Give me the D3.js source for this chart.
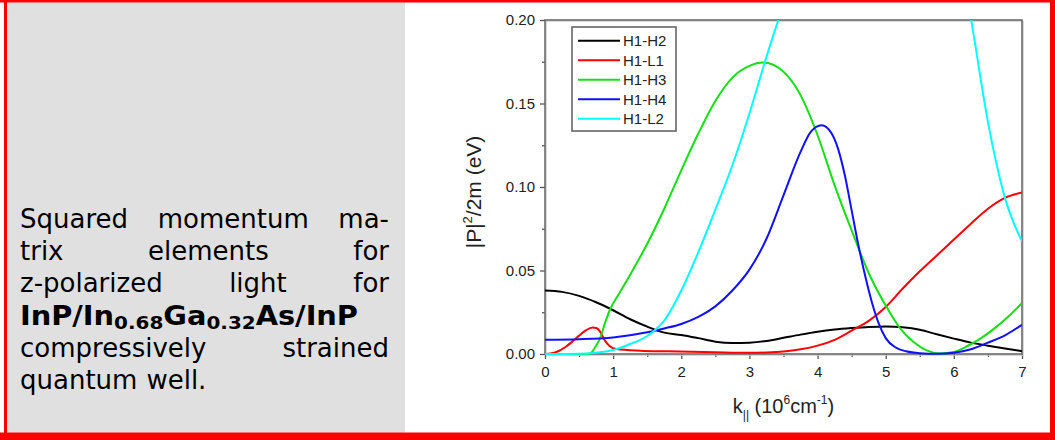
<!DOCTYPE html>
<html>
<head>
<meta charset="utf-8">
<script src="https://cdn.jsdelivr.net/npm/d3@7"></script>
<style>
  body { margin: 0; background: #fff; }
  svg { display: block; }
</style>
</head>
<body>
<div id="chart"></div>
<script>
var svgWidth = 1055;
var svgHeight = 440;

// k|| (10^6 cm^-1), |P|^2/2m (eV)
var h1h2 = [[0,0.038],[0.25,0.0372],[0.5,0.0348],[0.75,0.031],[1,0.0262],[1.25,0.0208],[1.5,0.0164],
  [1.75,0.0128],[2,0.0114],[2.25,0.0095],[2.5,0.0074],[2.75,0.0066],[3,0.0068],[3.25,0.0078],[3.5,0.0097],
  [3.75,0.0116],[4,0.0133],[4.25,0.0146],[4.5,0.0155],[4.75,0.0162],[5,0.0165],[5.25,0.016],[5.5,0.0145],
  [5.75,0.0118],[6,0.0092],[6.25,0.0068],[6.5,0.005],[6.75,0.0033],[7,0.0017]];

var h1l1 = [[0,0],[0.1,0.0004],[0.2,0.0018],[0.3,0.0042],[0.4,0.0074],[0.5,0.011],[0.6,0.0142],[0.7,0.0159],
  [0.76,0.0154],[0.82,0.0126],[0.88,0.008],[0.95,0.0047],[1.05,0.003],[1.4,0.002],[1.8,0.0016],[2.5,0.001],
  [3,0.0007],[3.25,0.0009],[3.5,0.0015],[3.75,0.0028],[4,0.005],[4.25,0.0085],[4.5,0.014],[4.75,0.0198],
  [5,0.0282],[5.25,0.0392],[5.5,0.0495],[5.75,0.059],[6,0.0685],[6.25,0.078],[6.5,0.087],[6.75,0.0935],[7,0.0967]];

var h1h3 = [[0,0],[0.6,0],[0.66,0.0003],[0.73,0.0036],[0.81,0.0096],[0.88,0.0185],[0.95,0.0262],[1.1,0.037],
  [1.25,0.0475],[1.5,0.066],[1.75,0.087],[2,0.11],[2.25,0.132],[2.5,0.1515],[2.75,0.1655],[3,0.1725],[3.2,0.1745],
  [3.5,0.169],[3.75,0.155],[4,0.131],[4.25,0.101],[4.5,0.074],[4.75,0.0485],[5,0.029],[5.2,0.016],[5.4,0.0075],
  [5.6,0.0022],[5.8,0.0003],[6,0.0012],[6.2,0.0048],[6.4,0.0095],[6.6,0.0155],[6.8,0.0225],[7,0.0305]];

var h1h4 = [[0,0.0086],[0.5,0.0089],[1,0.0099],[1.5,0.013],[1.75,0.0153],[2,0.018],[2.25,0.0222],[2.5,0.0285],
  [2.75,0.038],[3,0.0505],[3.25,0.069],[3.5,0.095],[3.75,0.121],[3.9,0.133],[4.06,0.137],[4.2,0.1325],[4.3,0.123],
  [4.4,0.107],[4.5,0.086],[4.6,0.065],[4.7,0.0465],[4.8,0.0305],[4.9,0.018],[5,0.0095],[5.15,0.0038],[5.3,0.0016],
  [5.5,0.0005],[5.75,0.0002],[6,0.0008],[6.25,0.0028],[6.5,0.0068],[6.75,0.0112],[7,0.0175]];

// goes off the top of the plot between ~3.4 and ~6.3
var h1l2 = [[0,0],[0.5,0.0002],[0.75,0.0008],[1,0.0024],[1.25,0.006],[1.5,0.0108],[1.75,0.02],[2,0.038],
  [2.25,0.061],[2.5,0.0865],[2.75,0.113],[3,0.144],[3.25,0.178],[3.5,0.21],[3.6,0.224],
  [6.1,0.235],[6.25,0.201],[6.5,0.139],[6.75,0.0935],[7,0.0674]];

var seriesNames = ["H1-H2", "H1-L1", "H1-H3", "H1-H4", "H1-L2"];
var seriesColors = ["#000000", "#ff0000", "#14e014", "#1010ff", "#00ffff"];
var xTicks = [0, 1, 2, 3, 4, 5, 6, 7];
var xMinor = [0.5, 1.5, 2.5, 3.5, 4.5, 5.5, 6.5];
var yTicks = [0, 0.05, 0.1, 0.15, 0.2];
var yMinor = [0.025, 0.075, 0.125, 0.175];

var captionLines = [
  { words: ["Squared", "momentum", "ma-"], justify: true },
  { words: ["trix", "elements", "for"], justify: true },
  { words: ["z-polarized", "light", "for"], justify: true },
  { words: ["compressively", "strained"], justify: true },
  { words: ["quantum", "well."], justify: false }
];

var margin = { top: 20, right: 33, bottom: 86, left: 545 };
var width = svgWidth - margin.left - margin.right;
var height = svgHeight - margin.top - margin.bottom;

var svg = d3.select("#chart")
  .append("svg")
  .attr("width", svgWidth)
  .attr("height", svgHeight);

// page frame: red border, grey caption panel
svg.append("rect").attr("x", 0).attr("y", 0).attr("width", svgWidth).attr("height", svgHeight).attr("fill", "#fff");
svg.append("rect").attr("x", 7).attr("y", 2.5).attr("width", 398).attr("height", 430).attr("fill", "#e0e0e0");
svg.append("rect").attr("x", 0).attr("y", 0).attr("width", svgWidth).attr("height", 2.5).attr("fill", "#ff0000");
svg.append("rect").attr("x", 4).attr("y", 0).attr("width", 3).attr("height", svgHeight).attr("fill", "#ff0000");
svg.append("rect").attr("x", 1050).attr("y", 0).attr("width", 5).attr("height", svgHeight).attr("fill", "#ff0000");
svg.append("rect").attr("x", 0).attr("y", 432.5).attr("width", svgWidth).attr("height", 7.5).attr("fill", "#ff0000");

// caption text, justified
var capFont = "'DejaVu Sans', Verdana, sans-serif";
var capLeft = 20, capRight = 389, capTop = 228, capStep = 32.2;
var capG = svg.append("g").attr("font-family", capFont).attr("font-size", "26px").attr("fill", "#000");

function drawCaptionLine(line, y) {
  var texts = line.words.map(function(w) {
    return capG.append("text").attr("y", y).text(w);
  });
  var widths = texts.map(function(t) { return t.node().getComputedTextLength(); });
  var total = d3.sum(widths);
  var gap = line.justify && texts.length > 1 ? (capRight - capLeft - total) / (texts.length - 1) : 9;
  var xPos = capLeft;
  texts.forEach(function(t, i) {
    t.attr("x", xPos);
    xPos += widths[i] + gap;
  });
}

drawCaptionLine(captionLines[0], capTop);
drawCaptionLine(captionLines[1], capTop + capStep);
drawCaptionLine(captionLines[2], capTop + capStep * 2);

var boldLine = capG.append("text")
  .attr("x", capLeft)
  .attr("y", capTop + capStep * 3)
  .attr("font-weight", "bold")
  .attr("textLength", 338)
  .attr("lengthAdjust", "spacingAndGlyphs");
boldLine.append("tspan").text("InP/In");
boldLine.append("tspan").attr("font-size", "18px").attr("dy", 4).text("0.68");
boldLine.append("tspan").attr("dy", -4).text("Ga");
boldLine.append("tspan").attr("font-size", "18px").attr("dy", 4).text("0.32");
boldLine.append("tspan").attr("dy", -4).text("As/InP");

drawCaptionLine(captionLines[3], capTop + capStep * 4);
drawCaptionLine(captionLines[4], capTop + capStep * 5);

// chart
var chartGroup = svg.append("g")
  .attr("transform", `translate(${margin.left}, ${margin.top})`);

var xLinearScale = d3.scaleLinear().domain([0, 7]).range([0, width]);
var yLinearScale = d3.scaleLinear().domain([0, 0.2]).range([height, 0]);

var axisFont = "Arial, 'Liberation Sans', sans-serif";

var bottomAxis = d3.axisBottom(xLinearScale).tickValues(xTicks).tickSize(5).tickPadding(7).tickFormat(d3.format("d"));
var bottomMinor = d3.axisBottom(xLinearScale).tickValues(xMinor).tickSize(3).tickFormat("");
var leftAxis = d3.axisLeft(yLinearScale).tickValues(yTicks).tickSize(5).tickPadding(5).tickFormat(d3.format(".2f"));
var leftMinor = d3.axisLeft(yLinearScale).tickValues(yMinor).tickSize(3).tickFormat("");

function styleAxis(g) {
  g.select(".domain").remove();
  g.selectAll(".tick line").attr("stroke", "#555").attr("stroke-width", 1.3);
  g.selectAll(".tick text").attr("fill", "#222").attr("font-size", "15px").attr("font-family", axisFont);
}

chartGroup.append("g").attr("transform", `translate(0, ${height})`).call(bottomAxis).call(styleAxis);
chartGroup.append("g").attr("transform", `translate(0, ${height})`).call(bottomMinor).call(styleAxis);
chartGroup.append("g").call(leftAxis).call(styleAxis);
chartGroup.append("g").call(leftMinor).call(styleAxis);

// plot frame
chartGroup.append("rect")
  .attr("x", 1.2).attr("y", 1.2).attr("width", width).attr("height", height)
  .attr("fill", "none").attr("stroke", "#c8c8c8").attr("stroke-width", 1);
chartGroup.append("rect")
  .attr("x", 0).attr("y", 0).attr("width", width).attr("height", height)
  .attr("fill", "none").attr("stroke", "#6a6a6a").attr("stroke-width", 1.6);

chartGroup.append("clipPath").attr("id", "plotClip")
  .append("rect").attr("x", 0).attr("y", 0).attr("width", width).attr("height", height + 3);

var line = d3.line()
  .x(d => xLinearScale(d[0]))
  .y(d => yLinearScale(d[1]))
  .curve(d3.curveMonotoneX);

var allSeries = [h1h2, h1l1, h1h3, h1h4, h1l2];

chartGroup.append("g").attr("clip-path", "url(#plotClip)")
  .selectAll("path")
  .data(allSeries)
  .enter()
  .append("path")
  .attr("d", d => line(d))
  .attr("fill", "none")
  .attr("stroke", (d, i) => seriesColors[i])
  .attr("stroke-width", 2)
  .attr("stroke-linejoin", "round");

// legend
var legend = chartGroup.append("g").attr("transform", "translate(27, 7)");
legend.append("rect")
  .attr("x", 0).attr("y", 0).attr("width", 104).attr("height", 104)
  .attr("fill", "#fff").attr("stroke", "#666").attr("stroke-width", 1.6);

var legendRows = legend.selectAll("g.row")
  .data(seriesNames)
  .enter()
  .append("g")
  .attr("transform", (d, i) => `translate(0, ${13.7 + i * 19.5})`);

legendRows.append("line")
  .attr("x1", 6).attr("x2", 48).attr("y1", 0).attr("y2", 0)
  .attr("stroke", (d, i) => seriesColors[i])
  .attr("stroke-width", 2);

legendRows.append("text")
  .attr("x", 51).attr("y", 5.5)
  .attr("font-family", axisFont).attr("font-size", "15px").attr("fill", "#222")
  .text(d => d);

// y axis title
var yTitle = svg.append("text")
  .attr("transform", "translate(481, 192) rotate(-90)")
  .attr("text-anchor", "middle")
  .attr("font-family", axisFont).attr("font-size", "21px").attr("fill", "#222");
yTitle.append("tspan").text("|P|");
yTitle.append("tspan").attr("font-size", "13px").attr("dy", -9).text("2");
yTitle.append("tspan").attr("dy", 9).text("/2m (eV)");

// x axis title
var xTitle = svg.append("text")
  .attr("x", margin.left + width / 2).attr("y", 413)
  .attr("text-anchor", "middle")
  .attr("font-family", axisFont).attr("font-size", "20px").attr("fill", "#222");
xTitle.append("tspan").text("k");
xTitle.append("tspan").attr("font-size", "12px").attr("dy", 6).text("||");
xTitle.append("tspan").attr("dy", -6).text(" (10");
xTitle.append("tspan").attr("font-size", "12px").attr("dy", -9).text("6");
xTitle.append("tspan").attr("dy", 9).text("cm");
xTitle.append("tspan").attr("font-size", "12px").attr("dy", -9).text("-1");
xTitle.append("tspan").attr("dy", 9).text(")");
</script>
</body>
</html>
